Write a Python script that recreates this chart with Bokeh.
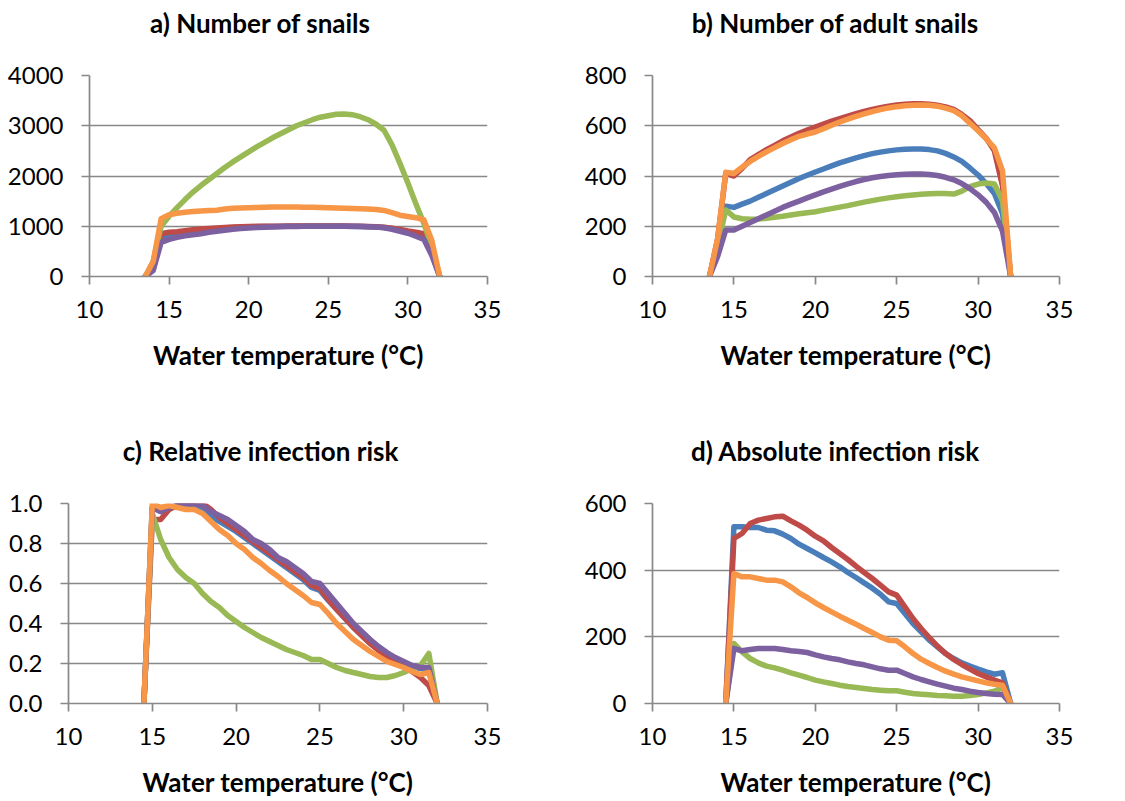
from bokeh.plotting import figure
from bokeh.models import Range1d, FixedTicker, PrintfTickFormatter
from bokeh.core.properties import value
from bokeh.layouts import column, row
from bokeh.embed import file_html
from bokeh.resources import INLINE

# ---------------- data ----------------
x_ab = [13.5, 14, 14.5, 15, 15.5, 16, 16.5, 17, 17.5, 18, 18.5, 19, 19.5, 20, 20.5, 21, 21.5, 22, 22.5,
        23, 23.5, 24, 24.5, 25, 25.5, 26, 26.5, 27, 27.5, 28, 28.5, 29, 29.5, 30, 30.5, 31, 31.5, 32]
x_cd = [14.5, 15, 15.5, 16, 16.5, 17, 17.5, 18, 18.5, 19, 19.5, 20, 20.5, 21, 21.5, 22, 22.5,
        23, 23.5, 24, 24.5, 25, 25.5, 26, 26.5, 27, 27.5, 28, 28.5, 29, 29.5, 30, 30.5, 31, 31.5, 32]

a_blue = [0, 160, 740, 800, 840, 870, 890, 910, 930, 945, 960, 970, 980, 985, 990, 995, 995, 1000, 1000,
          1000, 1000, 1000, 1000, 1000, 1000, 1000, 995, 995, 990, 985, 975, 955, 925, 890, 850, 800, 450, 0]
a_red = [0, 200, 850, 880, 890, 910, 930, 945, 955, 965, 975, 985, 990, 995, 998, 1000, 1000, 1000, 1005,
         1005, 1005, 1005, 1005, 1005, 1005, 1005, 1000, 1000, 995, 990, 980, 960, 935, 905, 880, 850, 500, 0]
a_green = [0, 300, 1000, 1200, 1370, 1530, 1680, 1810, 1930, 2050, 2170, 2280, 2380, 2480, 2580, 2670, 2760,
           2840, 2920, 3000, 3060, 3120, 3170, 3200, 3230, 3235, 3220, 3180, 3120, 3030, 2910, 2620, 2250,
           1860, 1450, 1060, 600, 0]
a_purple = [0, 120, 680, 740, 780, 810, 830, 850, 880, 900, 920, 940, 955, 965, 975, 980, 985, 990, 993,
            995, 998, 1000, 1000, 1000, 1000, 1000, 998, 995, 990, 985, 970, 940, 900, 860, 800, 740, 420, 0]
a_orange = [0, 300, 1150, 1230, 1260, 1280, 1295, 1305, 1315, 1320, 1345, 1360, 1365, 1370, 1375, 1380, 1383,
            1385, 1385, 1383, 1380, 1378, 1375, 1370, 1365, 1360, 1355, 1350, 1345, 1335, 1315, 1270, 1220,
            1195, 1170, 1130, 720, 0]

b_blue = [0, 130, 280, 275, 288, 300, 315, 330, 345, 360, 375, 390, 403, 416, 428, 440, 452, 462, 472,
          481, 489, 495, 500, 504, 506, 507, 507, 505, 500, 490, 476, 458, 432, 404, 370, 330, 250, 0]
b_red = [0, 150, 410, 400, 430, 465, 485, 505, 522, 540, 555, 570, 583, 595, 607, 618, 628, 638, 648,
         657, 665, 672, 678, 683, 686, 688, 688, 686, 682, 675, 665, 645, 620, 585, 550, 500, 360, 0]
b_green = [0, 120, 265, 237, 230, 228, 229, 232, 236, 240, 245, 250, 254, 258, 264, 270, 276, 282, 289,
           296, 302, 308, 313, 317, 321, 324, 327, 329, 330, 330, 328, 340, 358, 368, 372, 368, 300, 0]
b_purple = [0, 80, 185, 185, 200, 215, 230, 245, 260, 275, 288, 300, 313, 325, 337, 348, 359, 369, 378,
            386, 393, 398, 402, 405, 407, 408, 408, 406, 402, 395, 385, 370, 350, 325, 295, 255, 180, 0]
b_orange = [0, 150, 415, 410, 435, 458, 478, 496, 513, 529, 544, 558, 567, 575, 588, 602, 615, 626, 637,
            647, 656, 664, 671, 676, 680, 682, 683, 682, 678, 670, 660, 640, 610, 580, 548, 512, 420, 0]

c_blue = [0, 0.98, 0.96, 0.98, 0.99, 1.0, 0.99, 0.97, 0.94, 0.91, 0.885, 0.86, 0.83, 0.80, 0.77, 0.74, 0.71,
          0.68, 0.65, 0.62, 0.58, 0.565, 0.515, 0.47, 0.425, 0.38, 0.34, 0.30, 0.27, 0.24, 0.22, 0.20, 0.185,
          0.175, 0.17, 0]
c_red = [0, 0.92, 0.92, 0.97, 0.99, 1.0, 1.0, 1.0, 0.97, 0.93, 0.90, 0.87, 0.84, 0.81, 0.78, 0.75, 0.72,
         0.69, 0.66, 0.63, 0.59, 0.575, 0.52, 0.47, 0.425, 0.38, 0.34, 0.30, 0.265, 0.235, 0.21, 0.19, 0.16,
         0.13, 0.09, 0]
c_green = [0, 0.95, 0.82, 0.73, 0.67, 0.63, 0.60, 0.55, 0.51, 0.48, 0.44, 0.41, 0.38, 0.355, 0.33, 0.31, 0.29,
           0.27, 0.255, 0.24, 0.22, 0.22, 0.20, 0.18, 0.165, 0.155, 0.145, 0.135, 0.13, 0.13, 0.14, 0.155,
           0.175, 0.19, 0.25, 0]
c_purple = [0, 0.98, 0.96, 0.98, 0.99, 1.0, 1.0, 0.99, 0.96, 0.94, 0.92, 0.89, 0.86, 0.82, 0.80, 0.77, 0.73,
            0.71, 0.68, 0.65, 0.61, 0.60, 0.55, 0.50, 0.45, 0.40, 0.36, 0.32, 0.285, 0.255, 0.23, 0.21, 0.19,
            0.18, 0.18, 0]
c_orange = [0, 1.0, 0.98, 0.99, 0.98, 0.97, 0.97, 0.95, 0.91, 0.87, 0.84, 0.80, 0.77, 0.73, 0.70, 0.665, 0.635,
            0.60, 0.57, 0.54, 0.505, 0.495, 0.45, 0.40, 0.36, 0.32, 0.29, 0.26, 0.235, 0.21, 0.195, 0.18, 0.16,
            0.145, 0.155, 0]

d_blue = [0, 530, 530, 528, 528, 520, 518, 508, 495, 478, 465, 452, 438, 425, 410, 393, 378, 362, 346, 328,
          305, 300, 270, 240, 215, 190, 170, 150, 135, 122, 112, 103, 95, 88, 92, 0]
d_red = [0, 495, 510, 540, 550, 555, 560, 562, 548, 535, 520, 502, 488, 468, 450, 432, 412, 393, 375, 355,
         335, 325, 290, 255, 225, 198, 172, 150, 132, 117, 103, 90, 80, 70, 62, 0]
d_green = [0, 180, 155, 135, 122, 112, 107, 100, 92, 85, 78, 70, 65, 60, 55, 51, 48, 45, 42, 40,
           38, 38, 34, 30, 28, 26, 24, 23, 22, 22, 24, 27, 32, 37, 48, 0]
d_purple = [0, 165, 158, 162, 165, 165, 165, 162, 158, 156, 153, 146, 140, 135, 131, 125, 120, 116, 110, 104,
            100, 100, 90, 80, 72, 65, 58, 52, 46, 42, 37, 33, 30, 28, 27, 0]
d_orange = [0, 390, 380, 380, 375, 370, 370, 365, 350, 332, 318, 302, 288, 275, 262, 250, 238, 225, 213, 200,
            190, 188, 170, 150, 133, 120, 108, 97, 88, 80, 74, 68, 62, 58, 55, 0]

x_ticks = [10, 15, 20, 25, 30, 35]
titles = ["a) Number of snails", "b) Number of adult snails", "c) Relative infection risk",
          "d) Absolute infection risk"]
x_label = "Water temperature (°C)"

COLORS = ["#4A7EBB", "#BE4B48", "#98B954", "#7D60A0", "#F79646"]
FONT = "Lato"
GRID = "#888888"


def make_title(text, width, height, cx, cy_from_top):
    t = figure(width=width, height=height, output_backend="svg", toolbar_location=None,
               x_range=Range1d(0, width), y_range=Range1d(0, height), title=None,
               x_axis_type=None, y_axis_type=None,
               min_border_left=0, min_border_right=0, min_border_top=0, min_border_bottom=0)
    t.outline_line_color = None
    t.xgrid.visible = False
    t.ygrid.visible = False
    t.text(x=[cx], y=[height - cy_from_top], text=[text], text_font=value(FONT),
           text_font_style="bold", text_font_size="26px", text_color="black",
           text_align="center", text_baseline="middle")
    return t


def make_panel(xs, series, ymax, yticks, width, height, bl, br, bt, bb, fmt=None):
    p = figure(width=width, height=height, output_backend="svg", toolbar_location=None,
               x_range=Range1d(10, 35), y_range=Range1d(0, ymax), title=None,
               min_border_left=bl, min_border_right=br, min_border_top=bt, min_border_bottom=bb)
    p.outline_line_color = None
    p.background_fill_color = "white"
    p.border_fill_color = "white"
    for ys, c in zip(series, COLORS):
        p.line(xs, ys, line_color=c, line_width=5.5, line_join="round", line_cap="round")
    p.xgrid.visible = False
    p.ygrid.grid_line_color = GRID
    p.ygrid.grid_line_width = 1.7
    p.ygrid.ticker = FixedTicker(ticks=yticks)
    for ax in (p.xaxis[0], p.yaxis[0]):
        ax.axis_line_color = GRID
        ax.axis_line_width = 1.7
        ax.major_tick_line_color = GRID
        ax.major_tick_line_width = 1.7
        ax.major_tick_out = 8
        ax.major_tick_in = 0
        ax.minor_tick_line_color = None
        ax.major_label_text_font = FONT
        ax.major_label_text_font_size = "24px"
        ax.major_label_text_color = "black"
    p.xaxis.ticker = FixedTicker(ticks=x_ticks)
    p.yaxis.ticker = FixedTicker(ticks=yticks)
    p.xaxis.major_label_standoff = 16
    p.yaxis.major_label_standoff = 18
    if fmt:
        p.yaxis.formatter = PrintfTickFormatter(format=fmt)
    p.xaxis.axis_label = x_label
    p.xaxis.axis_label_text_font = FONT
    p.xaxis.axis_label_text_font_style = "bold"
    p.xaxis.axis_label_text_font_size = "26px"
    p.xaxis.axis_label_text_color = "black"
    p.xaxis.axis_label_standoff = 18
    return p


ta = make_title(titles[0], 560, 45, 260, 22)
tb = make_title(titles[1], 565, 45, 275, 22)
pa = make_panel(x_ab, [a_blue, a_red, a_green, a_purple, a_orange], 4000, [0, 1000, 2000, 3000, 4000],
                560, 355, 89, 73, 30, 124)
pb = make_panel(x_ab, [b_blue, b_red, b_green, b_purple, b_orange], 800, [0, 200, 400, 600, 800],
                565, 355, 92, 66, 30, 124)
tc = make_title(titles[2], 560, 66, 260, 50)
td = make_title(titles[3], 565, 66, 275, 50)
pc = make_panel(x_cd, [c_blue, c_red, c_green, c_purple, c_orange], 1.0, [0, 0.2, 0.4, 0.6, 0.8, 1.0],
                560, 335, 68, 73, 37, 98, fmt="%.1f")
pd_ = make_panel(x_cd, [d_blue, d_red, d_green, d_purple, d_orange], 600, [0, 200, 400, 600],
                 565, 335, 92, 66, 37, 98)

layout = column(row(ta, tb), row(pa, pb), row(tc, td), row(pc, pd_))
open("out.html", "w").write(file_html(layout, INLINE))
